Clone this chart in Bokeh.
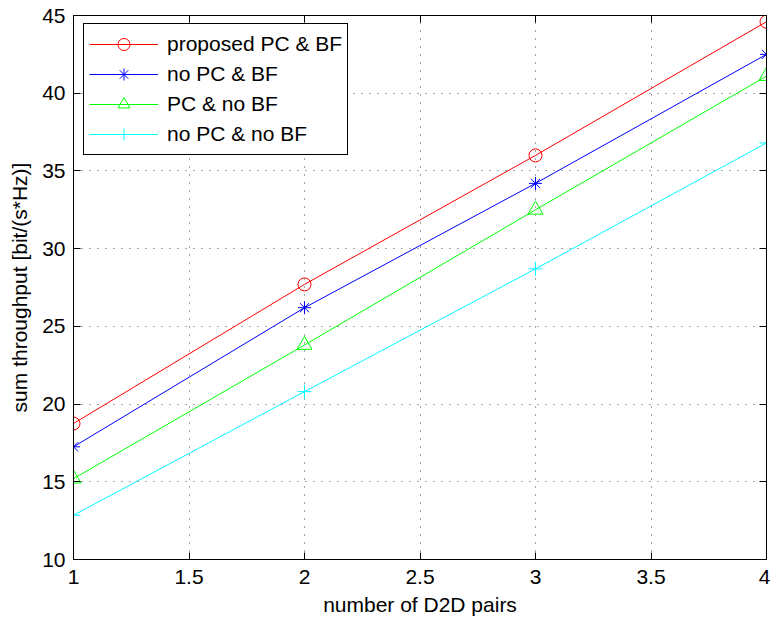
from bokeh.plotting import figure
from bokeh.models import Range1d, FixedTicker, LinearAxis, Legend
from bokeh.embed import file_html
from bokeh.resources import INLINE

x_pairs = [1, 2, 3, 4]
proposed_pc_bf = [18.75, 27.7, 36.0, 44.6]
no_pc_bf = [17.25, 26.2, 34.2, 42.5]
pc_no_bf = [15.2, 23.8, 32.5, 41.1]
no_pc_no_bf = [12.85, 20.8, 28.7, 36.8]

x_ticks = [1, 1.5, 2, 2.5, 3, 3.5, 4]
y_ticks = [10, 15, 20, 25, 30, 35, 40, 45]

FONT = "Liberation Sans"
FS = "21px"

p = figure(width=770, height=618, output_backend="svg", toolbar_location=None,
           x_range=Range1d(1, 4), y_range=Range1d(10, 45),
           min_border_left=73, min_border_right=4, min_border_top=15, min_border_bottom=57)
p.background_fill_color = "white"
p.border_fill_color = "white"
p.outline_line_color = "black"
p.outline_line_width = 1

for ax in (p.xaxis[0], p.yaxis[0]):
    ax.major_tick_in = 7
    ax.major_tick_out = 0
    ax.minor_tick_in = 0
    ax.minor_tick_out = 0
    ax.axis_line_color = "black"
    ax.major_tick_line_color = "black"
    ax.major_label_text_font = FONT
    ax.major_label_text_font_size = FS
    ax.major_label_text_color = "black"
    ax.axis_label_text_font = FONT
    ax.axis_label_text_font_size = FS
    ax.axis_label_text_font_style = "normal"
    ax.axis_label_text_color = "black"

p.xaxis[0].ticker = FixedTicker(ticks=x_ticks)
p.yaxis[0].ticker = FixedTicker(ticks=y_ticks)
p.xaxis[0].axis_label = "number of D2D pairs"
p.yaxis[0].axis_label = "sum throughput [bit/(s*Hz)]"
p.xaxis[0].major_label_standoff = 10
p.yaxis[0].major_label_standoff = 8
p.xaxis[0].axis_label_standoff = 6
p.yaxis[0].axis_label_standoff = 8

for loc, ticks in (("above", x_ticks), ("right", y_ticks)):
    ax = LinearAxis(ticker=FixedTicker(ticks=ticks))
    ax.major_tick_in = 7
    ax.major_tick_out = 0
    ax.minor_tick_in = 0
    ax.minor_tick_out = 0
    ax.major_label_text_font_size = "1px"
    ax.major_label_text_color = None
    ax.major_label_standoff = 0
    ax.axis_line_color = "black"
    p.add_layout(ax, loc)

p.xgrid.ticker = FixedTicker(ticks=x_ticks)
p.ygrid.ticker = FixedTicker(ticks=y_ticks)
for g in (p.xgrid[0], p.ygrid[0]):
    g.grid_line_color = "black"
    g.grid_line_alpha = 0.7
    g.grid_line_dash = "1 7"
    g.grid_line_width = 1

series = [
    ("proposed PC & BF", proposed_pc_bf, "#ff0000", "circle", 13),
    ("no PC & BF", no_pc_bf, "#0000ff", "asterisk", 13),
    ("PC & no BF", pc_no_bf, "#00ff00", "triangle", 15),
    ("no PC & no BF", no_pc_no_bf, "#00ffff", "cross", 14),
]

items = []
for label, ys, col, mk, sz in series:
    r1 = p.line(x_pairs, ys, line_color=col, line_width=1)
    r2 = p.scatter(x_pairs, ys, marker=mk, size=sz, line_color=col, fill_color=None, line_width=1)
    items.append((label, [r1, r2]))

legend = Legend(items=items, location=(10, 404))
legend.border_line_color = "black"
legend.border_line_width = 1
legend.border_line_alpha = 1
legend.background_fill_color = "white"
legend.background_fill_alpha = 1
legend.label_text_font = FONT
legend.label_text_font_size = FS
legend.label_text_color = "black"
legend.glyph_width = 69
legend.glyph_height = 30
legend.label_height = 20
legend.spacing = 0
legend.padding = 5
legend.margin = 0
legend.label_standoff = 9
p.add_layout(legend, "center")

open("out.html", "w").write(file_html(p, INLINE))
